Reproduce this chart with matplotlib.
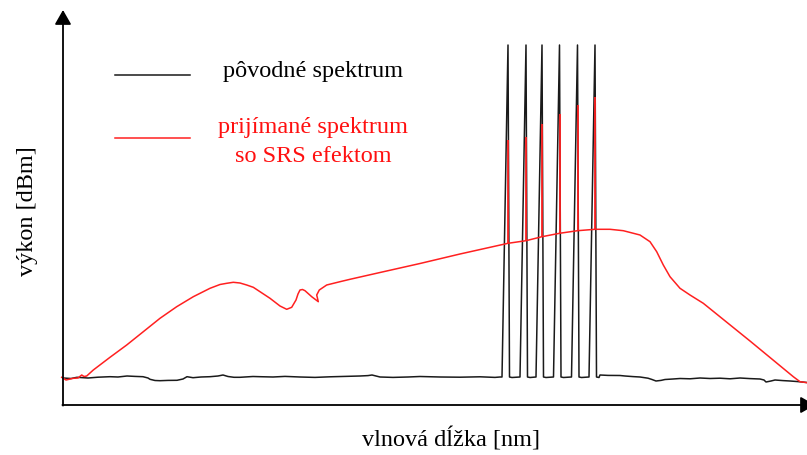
import matplotlib
matplotlib.use("Agg")
import matplotlib.pyplot as plt

plt.rcParams['font.family'] = ['Liberation Serif', 'DejaVu Serif']

# chart units: x = wavelength (arbitrary), y = power (arbitrary)
base_left_x = [0, 8, 14, 25, 35, 47, 55, 64, 72, 80, 85, 87, 92, 97, 105, 114, 120, 124, 130, 138,
               147, 155, 160, 165, 171, 177, 190, 197, 210, 222, 237, 252, 267, 282, 297, 305,
               309, 313, 317, 330, 345, 357, 377, 397, 417, 432, 437]
base_left_y = [27, 26.5, 27.7, 27, 27.8, 28.3, 28, 29, 28.6, 28.3, 27, 25.7, 24.5, 24.3, 24.6,
               24.7, 26, 28.3, 27.3, 28, 28.3, 29, 30, 28.5, 27.7, 27.7, 28.5, 28.3, 28, 28.6, 28,
               27.6, 28.2, 28.6, 29, 29.4, 30, 29, 28, 27.6, 28, 28.5, 28, 27.8, 28.2, 27.6, 28]
peak_x = [445, 463, 479, 496.5, 514.5, 532]
peak_top = 360
peak_base = 28
base_right_x = [537, 545, 557, 562, 570, 577, 585, 589, 593, 598, 602, 610, 617, 627, 637, 647,
                657, 667, 677, 687, 697, 701, 703, 708, 712, 720, 727, 735, 744]
base_right_y = [30, 29.6, 29.5, 29, 28.4, 28, 26.8, 25.5, 24, 24.6, 25.5, 26, 26.5, 26.2, 27,
                26.5, 26.8, 26.2, 27, 26.4, 26, 25, 23, 24, 25, 24.4, 24, 23.4, 22.5]

red_x = [-1.3, 3, 10.3, 15, 18.7, 21, 23.7, 30.3, 47, 63.7, 80.3, 97, 113.7, 130.3, 147, 157,
         163.7, 170.3, 177, 183.7, 190.3, 197, 207, 217, 223.7, 228.7, 233, 235, 237, 239.5,
         242, 248.7, 255.3, 253.7, 256.3, 263.7, 277, 287, 317, 357, 397, 445, 463, 479, 496.5,
         514.5, 532, 547, 560.3, 577, 587, 593.7, 600.3, 607, 617, 627, 640.3, 687, 730.3, 737,
         744]
red_y = [27.7, 25, 26.7, 27, 30, 28.5, 29, 35, 47.7, 60, 73.3, 86.7, 98.3, 108.3, 116.7, 120.5,
         121.7, 122.7, 122, 120, 117.7, 113.3, 106.7, 99, 95.7, 97.7, 105, 111, 115, 115.5,
         114.3, 108.3, 103.3, 110, 115, 120, 123.3, 125.7, 132.5, 141.5, 151, 161.7, 164.3,
         168.3, 171.7, 174.3, 175.7, 175.7, 174.3, 170, 163.3, 153.3, 140, 128.3, 116.7, 110,
         101.7, 64, 28.3, 23.3, 22.3]
red_peak_top = [265, 268.3, 280.7, 290.7, 300, 308.3]
red_peak_foot = [161.7, 164.3, 168.3, 171.7, 174.3, 175.7]

# black spectrum: baseline + narrow asymmetric channel peaks
bx, by = list(base_left_x), list(base_left_y)
for px in peak_x:
    bx += [px - 6, px, px + 1.5, px + 4]
    by += [peak_base, peak_top, peak_base, peak_base - 0.5]
bx += base_right_x
by += base_right_y

fig = plt.figure(figsize=(8.07, 4.55), dpi=100)
ax = fig.add_axes([0, 0, 1, 1])
ax.set_xlim(-63, 744)
ax.set_ylim(-50, 405)
ax.axis('off')

ax.plot(bx, by, color='#1a1a1a', lw=1.1, zorder=2, solid_joinstyle='round')
ax.plot(red_x, red_y, color='#ff2020', lw=1.1, zorder=3, solid_joinstyle='round')
ax.vlines(peak_x, red_peak_foot, red_peak_top, color='#ff2020', lw=1.3, zorder=4)

# axes with arrow heads
arrow = dict(arrowstyle='-|>,head_length=0.35,head_width=0.2', mutation_scale=25,
             color='black', lw=1.3, shrinkA=0, shrinkB=0)
ax.annotate('', xy=(0, 395), xytext=(0, -0.6), arrowprops=arrow)
ax.annotate('', xy=(752, 0), xytext=(-0.6, 0), arrowprops=arrow, annotation_clip=False)

# legend
ax.plot([52, 127], [330, 330], color='#1a1a1a', lw=1.1)
ax.text(250, 334, 'pôvodné spektrum', ha='center', va='center', fontsize=17.5, color='black')
ax.plot([52, 127], [267, 267], color='#ff2020', lw=1.1)
ax.text(250, 262.5, 'prijímané spektrum\nso SRS efektom', ha='center', va='center',
        fontsize=17.5, color='#ff1010', linespacing=1.5)

ax.text(388.5, -35, 'vlnová dĺžka [nm]', ha='center', va='center', fontsize=17.5)
ax.text(-35, 194, 'výkon [dBm]', ha='center', va='center', rotation=90, fontsize=17.5)

fig.savefig('out.png', dpi=100)
